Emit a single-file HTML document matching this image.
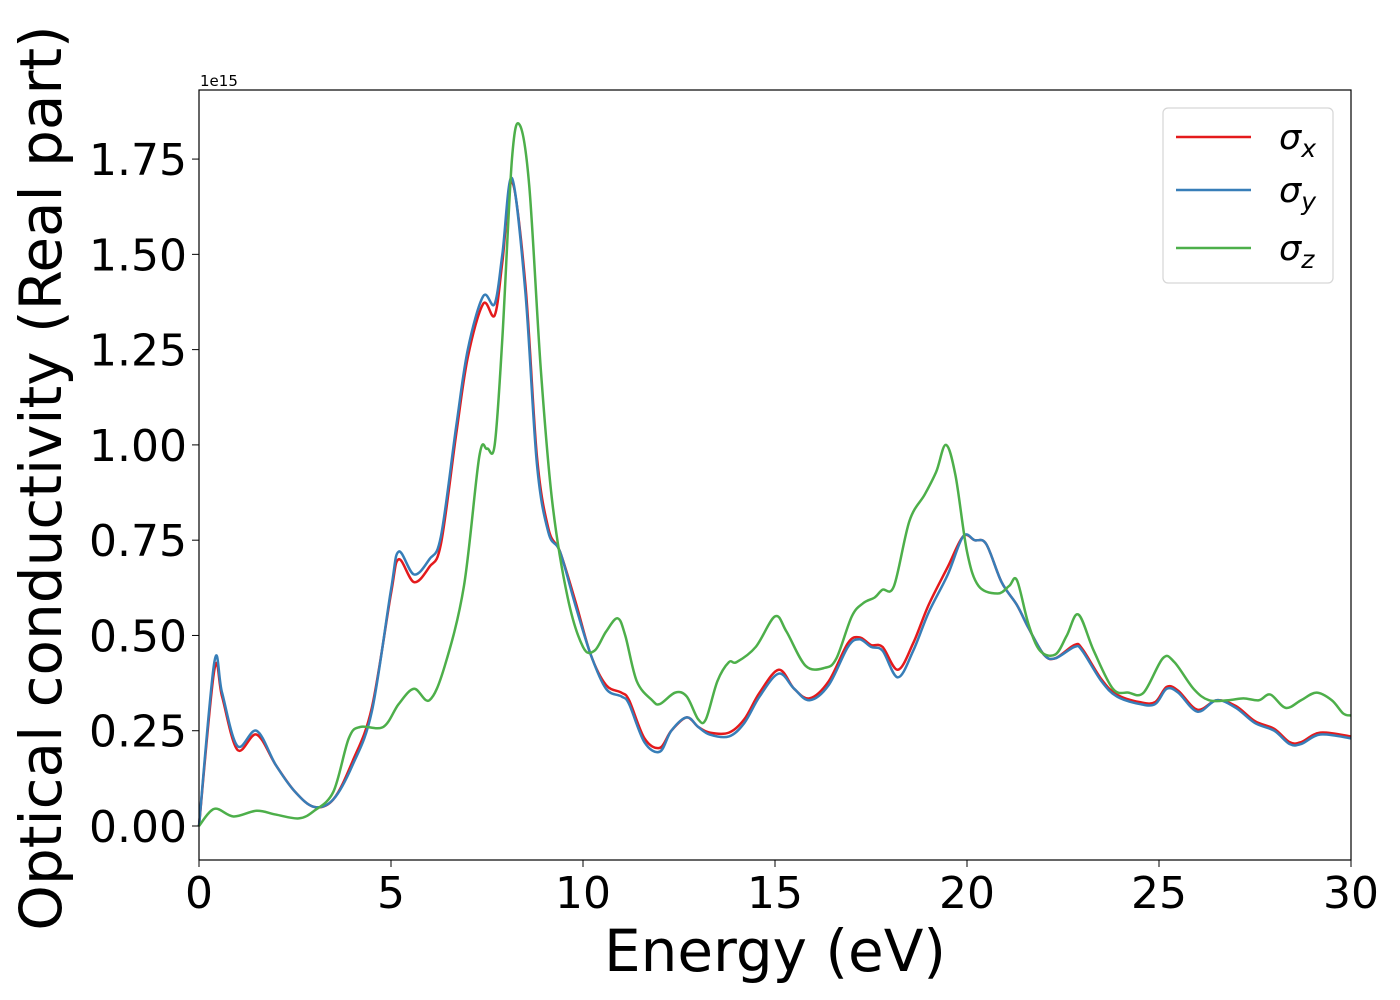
<!DOCTYPE html>
<html><head><meta charset="utf-8"><style>
html,body{margin:0;padding:0;background:#fff;}
svg{display:block;font-family:"DejaVu Sans","Liberation Sans",sans-serif;}
</style></head><body>
<svg id="chart" width="1400" height="1000" viewBox="0 0 1400 1000">
<rect x="0" y="0" width="1400" height="1000" fill="#fff"/>
<g id="series"></g>
<rect x="199" y="90" width="1152" height="770" fill="none" stroke="#000" stroke-width="1.2"/>
<g id="xticks"></g>
<g id="yticks"></g>
<text x="200" y="86" font-size="15">1e15</text>
<text x="775" y="971" font-size="58" text-anchor="middle">Energy (eV)</text>
<text transform="translate(61,478) rotate(-90)" font-size="58" text-anchor="middle">Optical conductivity (Real part)</text>
<g>
<rect x="1163" y="108" width="170" height="175" rx="5" fill="#fff" fill-opacity="0.8" stroke="#d6d6d6" stroke-width="1.2"/>
<line x1="1176" y1="137" x2="1251" y2="137" stroke="#e41a1c" stroke-width="2.5"/>
<text x="1279" y="149" font-size="35" font-style="italic">σ<tspan font-size="25" dy="8">x</tspan></text>
<line x1="1176" y1="190" x2="1251" y2="190" stroke="#377eb8" stroke-width="2.5"/>
<text x="1279" y="202" font-size="35" font-style="italic">σ<tspan font-size="25" dy="8">y</tspan></text>
<line x1="1176" y1="248" x2="1251" y2="248" stroke="#4daf4a" stroke-width="2.5"/>
<text x="1279" y="260" font-size="35" font-style="italic">σ<tspan font-size="25" dy="8">z</tspan></text>
</g>
</svg>
<script>
const xTicks = [0, 5, 10, 15, 20, 25, 30];
const yTicks = [0, 0.25, 0.5, 0.75, 1.0, 1.25, 1.5, 1.75];
const yTickLabels = ["0.00","0.25","0.50","0.75","1.00","1.25","1.50","1.75"];
const energyY = [0,0.4,0.6,1.0,1.5,2.0,2.5,3.0,3.5,4.0,4.5,5.0,5.2,5.6,6.0,6.3,6.7,7.0,7.4,7.7,7.9,8.15,8.5,8.8,9.1,9.4,9.8,10.2,10.6,11.0,11.2,11.6,12.0,12.3,12.7,13.0,13.3,13.8,14.2,14.6,15.1,15.5,15.9,16.4,16.9,17.2,17.5,17.8,18.2,18.6,19.0,19.5,19.9,20.2,20.5,20.9,21.3,21.6,22.0,22.3,22.8,23.0,23.5,23.9,24.5,24.9,25.2,25.5,26.0,26.5,27.0,27.5,28.0,28.4,28.7,29.2,30];
const sigmaY = [0,0.43,0.35,0.21,0.25,0.16,0.09,0.05,0.07,0.16,0.30,0.62,0.72,0.66,0.70,0.76,1.05,1.25,1.39,1.37,1.50,1.70,1.40,0.95,0.77,0.72,0.58,0.45,0.36,0.34,0.32,0.22,0.195,0.25,0.285,0.26,0.24,0.235,0.27,0.34,0.40,0.36,0.33,0.37,0.47,0.49,0.47,0.46,0.39,0.46,0.56,0.66,0.76,0.75,0.74,0.64,0.58,0.52,0.45,0.44,0.47,0.46,0.38,0.34,0.32,0.32,0.36,0.35,0.30,0.33,0.31,0.27,0.25,0.215,0.215,0.24,0.23];
const sigmaX = [0,0.41,0.34,0.20,0.24,0.16,0.09,0.05,0.07,0.17,0.31,0.61,0.70,0.64,0.68,0.74,1.03,1.23,1.37,1.34,1.48,1.69,1.42,0.97,0.78,0.72,0.59,0.45,0.37,0.35,0.33,0.23,0.205,0.25,0.285,0.26,0.245,0.245,0.28,0.35,0.41,0.36,0.335,0.38,0.48,0.495,0.475,0.47,0.41,0.48,0.58,0.68,0.76,0.75,0.74,0.64,0.58,0.52,0.45,0.44,0.475,0.465,0.385,0.345,0.325,0.325,0.365,0.355,0.305,0.33,0.315,0.275,0.255,0.22,0.22,0.245,0.235];
const energyZ = [0,0.4,0.9,1.5,2.0,2.6,3.0,3.5,3.9,4.2,4.8,5.2,5.6,6.0,6.4,6.9,7.3,7.5,7.7,7.9,8.15,8.35,8.6,8.9,9.2,9.6,10.0,10.3,10.6,10.9,11.1,11.4,11.8,12.0,12.4,12.7,13.0,13.2,13.5,13.8,14.0,14.5,15.0,15.3,15.8,16.3,16.6,17.0,17.3,17.6,17.8,18.1,18.5,18.9,19.2,19.45,19.7,20.0,20.3,20.8,21.1,21.3,21.6,21.9,22.3,22.6,22.9,23.3,23.8,24.2,24.6,25.1,25.4,25.9,26.3,26.8,27.2,27.6,27.9,28.3,28.7,29.1,29.5,29.8,30];
const sigmaZ = [0,0.045,0.025,0.04,0.03,0.02,0.04,0.09,0.23,0.26,0.26,0.32,0.36,0.33,0.42,0.63,0.97,0.99,1.00,1.28,1.75,1.84,1.68,1.20,0.85,0.60,0.47,0.46,0.51,0.545,0.50,0.38,0.33,0.32,0.35,0.34,0.28,0.28,0.38,0.43,0.43,0.47,0.55,0.51,0.42,0.415,0.44,0.55,0.585,0.60,0.62,0.63,0.80,0.87,0.93,1.00,0.92,0.72,0.63,0.61,0.63,0.645,0.53,0.46,0.45,0.50,0.555,0.46,0.36,0.35,0.35,0.44,0.43,0.36,0.33,0.33,0.335,0.33,0.345,0.31,0.33,0.35,0.33,0.295,0.29];

const X0=199, X1=1351, Y0=826, PXV=381.1;
function sx(e){return X0+(X1-X0)*e/30;}
function sy(v){return Y0-v*PXV;}
const NS="http://www.w3.org/2000/svg";
function pathFor(xs,ys){
  const p=xs.map((e,i)=>[sx(e),sy(ys[i])]);
  let d="M"+p[0][0].toFixed(2)+","+p[0][1].toFixed(2);
  for(let i=0;i<p.length-1;i++){
    const a=p[Math.max(i-1,0)],b=p[i],c=p[i+1],n=p[Math.min(i+2,p.length-1)];
    const c1=[b[0]+(c[0]-a[0])/6,b[1]+(c[1]-a[1])/6],c2=[c[0]-(n[0]-b[0])/6,c[1]-(n[1]-b[1])/6];
    d+=" C"+c1[0].toFixed(2)+","+c1[1].toFixed(2)+" "+c2[0].toFixed(2)+","+c2[1].toFixed(2)+" "+c[0].toFixed(2)+","+c[1].toFixed(2);
  }
  return d;
}
const g=document.getElementById("series");
function addLine(xs,ys,color,name){
  const el=document.createElementNS(NS,"path");
  el.setAttribute("d",pathFor(xs,ys));
  el.setAttribute("fill","none");
  el.setAttribute("stroke",color);
  el.setAttribute("stroke-width","2.5");
  
  
  g.appendChild(el);
}
addLine(energyY,sigmaX,"#e41a1c","series-sigma-x");
addLine(energyY,sigmaY,"#377eb8","series-sigma-y");
addLine(energyZ,sigmaZ,"#4daf4a","series-sigma-z");

const xg=document.getElementById("xticks");
xTicks.forEach(t=>{
  const l=document.createElementNS(NS,"line");
  l.setAttribute("x1",sx(t));l.setAttribute("x2",sx(t));l.setAttribute("y1",860);l.setAttribute("y2",867);
  l.setAttribute("stroke","#000");
  
  
  xg.appendChild(l);
  const tx=document.createElementNS(NS,"text");
  tx.setAttribute("x",sx(t));tx.setAttribute("y",908);tx.setAttribute("font-size","44");tx.setAttribute("text-anchor","middle");
  tx.textContent=String(t);
  
  
  xg.appendChild(tx);
});
const yg=document.getElementById("yticks");
yTicks.forEach((t,i)=>{
  const l=document.createElementNS(NS,"line");
  l.setAttribute("x1",192);l.setAttribute("x2",199);l.setAttribute("y1",sy(t));l.setAttribute("y2",sy(t));
  l.setAttribute("stroke","#000");
  
  
  yg.appendChild(l);
  const tx=document.createElementNS(NS,"text");
  tx.setAttribute("x",187);tx.setAttribute("y",sy(t)+16);tx.setAttribute("font-size","44");tx.setAttribute("text-anchor","end");
  tx.textContent=yTickLabels[i];
  
  
  yg.appendChild(tx);
});
</script>
</body></html>
